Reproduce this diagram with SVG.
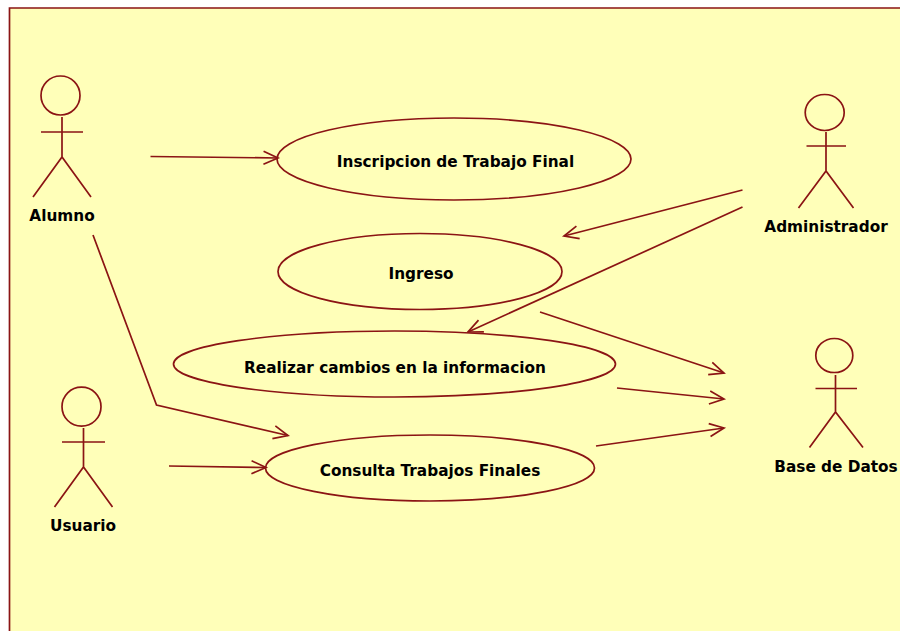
<svg xmlns="http://www.w3.org/2000/svg" width="900" height="631" viewBox="0 0 900 631">
<style>
.s{fill:none;stroke:#8b1414;stroke-width:1.7}
.t{font-family:"DejaVu Sans",Verdana,sans-serif;font-weight:bold;font-size:15.3px;fill:#000;text-anchor:middle}
</style>
<defs>
<marker id="a" markerUnits="userSpaceOnUse" markerWidth="20" markerHeight="18" refX="15" refY="7" orient="auto" viewBox="0 0 20 14"><path d="M0.500 0.500L15 7L0.500 13.500" fill="none" stroke="#8b1414" stroke-width="1.700"/></marker>
</defs>
<rect x="0" y="0" width="900" height="631" fill="#fff"/>
<path d="M9.500 631V8H900V631Z" fill="#ffffb9"/>
<path d="M9.500 631V8H900" class="s"/>
<g id="connectors" class="s">
<path d="M150.500 156.500L278 158" marker-end="url(#a)"/>
<path d="M169 466L266 467.500" marker-end="url(#a)"/>
<path d="M93 235L156.500 405L288 435.500" marker-end="url(#a)"/>
<path d="M742.500 190L564 236" marker-end="url(#a)"/>
<path d="M742.500 207L468 332" marker-end="url(#a)"/>
<path d="M540 312L724 373" marker-end="url(#a)"/>
<path d="M617 388L724 399" marker-end="url(#a)"/>
<path d="M596 446L724 428" marker-end="url(#a)"/>
</g>
<g id="uc-inscripcion"><ellipse class="s" cx="454" cy="159" rx="177" ry="41"/><text class="t" x="455.500" y="167">Inscripcion de Trabajo Final</text></g>
<g id="uc-ingreso"><ellipse class="s" cx="420" cy="271.500" rx="142" ry="38"/><text class="t" x="421" y="279">Ingreso</text></g>
<g id="uc-realizar"><ellipse class="s" cx="394.500" cy="364" rx="221" ry="33"/><text class="t" x="395" y="373">Realizar cambios en la informacion</text></g>
<g id="uc-consulta"><ellipse class="s" cx="430" cy="468" rx="164.500" ry="33"/><text class="t" x="430" y="476">Consulta Trabajos Finales</text></g>
<g id="actor-alumno"><ellipse class="s" cx="60.500" cy="95.500" rx="19.500" ry="19.500"/><path class="s" d="M62 117V157M41 132H83M33 197L62 157L91 197"/><text class="t" x="62" y="221">Alumno</text></g>
<g id="actor-administrador"><ellipse class="s" cx="824.700" cy="112.500" rx="19.500" ry="18"/><path class="s" d="M826 132V171M806.500 146H846M798.500 208L826 171L853.500 208"/><text class="t" x="826" y="232">Administrador</text></g>
<g id="actor-usuario"><ellipse class="s" cx="81.500" cy="406.700" rx="19.500" ry="19.500"/><path class="s" d="M83.500 428V467M62 442H105M54.500 507L83.500 467L112.500 507"/><text class="t" x="83" y="531">Usuario</text></g>
<g id="actor-base"><ellipse class="s" cx="834.300" cy="355.500" rx="18.500" ry="17"/><path class="s" d="M835.500 375V412M815.500 388.500H857M809.500 447.500L835.500 412L863 447.500"/><text class="t" x="836" y="472">Base de Datos</text></g>
</svg>
